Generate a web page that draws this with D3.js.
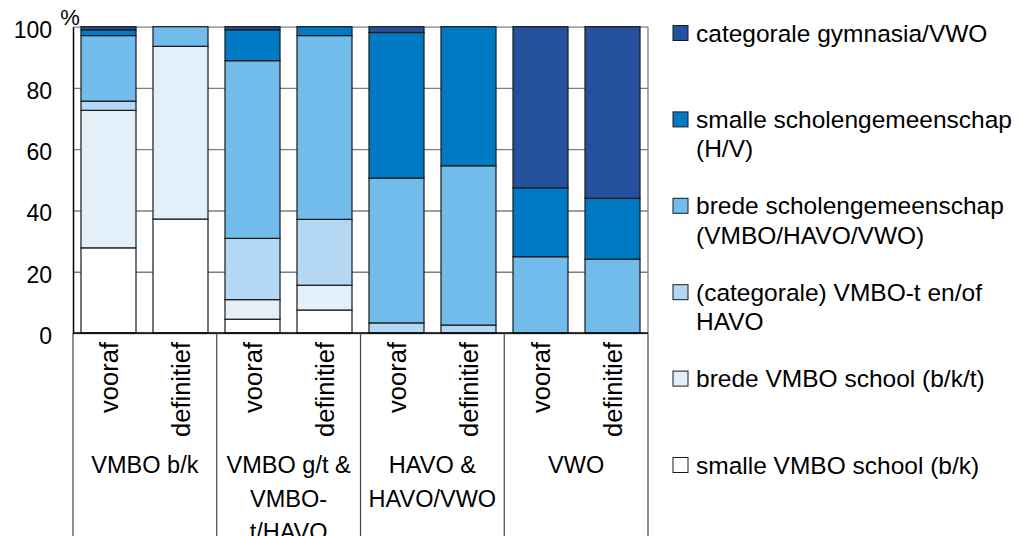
<!DOCTYPE html>
<html>
<head>
<meta charset="utf-8" />
<title>Schooltype vooraf en definitief</title>
<script src="https://cdn.jsdelivr.net/npm/d3@7"></script>
<style>
	body { margin: 0; background: #fff; }
	svg text { font-family: "Liberation Sans", Arial, sans-serif; fill: #000; }
	.grid line { stroke: #7f7f7f; stroke-width: 1.3; }
	.grid path { stroke-width: 0; }
</style>
</head>
<body>
<script>
// categorieen (twee staven per groep)
var bars = ["vooraf", "definitief", "vooraf", "definitief", "vooraf", "definitief", "vooraf", "definitief"];
var groups = [["VMBO b/k"], ["VMBO g/t &", "VMBO-", "t/HAVO"], ["HAVO &", "HAVO/VWO"], ["VWO"]];

// series, van onder naar boven
var smalleVmbo  = [27.8, 37.2, 4.5, 7.5, 0, 0, 0, 0];
var bredeVmbo   = [44.9, 56.4, 6.4, 8.1, 0, 0, 0, 0];
var catVmboT    = [3.0, 0, 20.0, 21.5, 3.3, 2.6, 0, 0];
var bredeSg     = [21.4, 6.4, 58.0, 60.0, 47.3, 52.0, 24.9, 24.1];
var smalleSg    = [1.9, 0, 10.1, 2.9, 47.5, 45.4, 22.5, 19.9];
var catGym      = [1.0, 0, 1.0, 0, 1.9, 0, 52.6, 56.0];

var yTicks = [0, 20, 40, 60, 80, 100];

var series = [
	{ key: "smalle", label: ["smalle VMBO school (b/k)"], values: smalleVmbo, color: "#ffffff" },
	{ key: "bredeV", label: ["brede VMBO school (b/k/t)"], values: bredeVmbo, color: "#e3f0fa" },
	{ key: "catT", label: ["(categorale) VMBO-t en/of", "HAVO"], values: catVmboT, color: "#b4d8f4" },
	{ key: "bredeS", label: ["brede scholengemeenschap", "(VMBO/HAVO/VWO)"], values: bredeSg, color: "#72bcec" },
	{ key: "smalleS", label: ["smalle scholengemeenschap", "(H/V)"], values: smalleSg, color: "#007ac3" },
	{ key: "gym", label: ["categorale gymnasia/VWO"], values: catGym, color: "#25509b" }
];

var svg = d3.select("body").append("svg")
	.attr("width", 1026)
	.attr("height", 536);

var pLeft = 73, pRight = 648, pTop = 26.7, pBottom = 333;

// tabel voor d3.stack
var table = bars.map(function (b, i) {
	var row = { id: i };
	series.forEach(function (s) { row[s.key] = s.values[i]; });
	return row;
});
var stacked = d3.stack().keys(series.map(function (s) { return s.key; }))(table);

var x = d3.scaleBand()
	.domain(d3.range(bars.length))
	.range([pLeft, pRight])
	.paddingInner(0.236)
	.paddingOuter(0.111);

var xg = d3.scaleBand()
	.domain(d3.range(groups.length))
	.range([pLeft, pRight]);

var y = d3.scaleLinear().domain([0, 100]).range([pBottom, pTop]);

// gridlijnen
svg.append("g")
	.attr("class", "grid")
	.attr("transform", "translate(" + pLeft + ",0)")
	.call(d3.axisLeft(y).tickValues(yTicks).tickSize(-(pRight - pLeft)).tickFormat(""));

// rechterrand
svg.append("line")
	.attr("x1", pRight).attr("x2", pRight)
	.attr("y1", pTop).attr("y2", pBottom)
	.attr("stroke", "#7f7f7f").attr("stroke-width", 1.3);

// staven
svg.selectAll(".serie")
	.data(stacked)
	.enter().append("g")
	.attr("fill", function (d, i) { return series[i].color; })
	.selectAll("rect")
	.data(function (d) { return d.filter(function (p) { return p[1] - p[0] > 0; }); })
	.enter().append("rect")
	.attr("x", function (d) { return x(d.data.id); })
	.attr("width", x.bandwidth())
	.attr("y", function (d) { return y(d[1]); })
	.attr("height", function (d) { return y(d[0]) - y(d[1]); })
	.attr("stroke", "#1a1a1a")
	.attr("stroke-width", 1.2);

// y-as
var yAxis = svg.append("g")
	.attr("transform", "translate(" + pLeft + ",0)")
	.call(d3.axisLeft(y).tickValues(yTicks).tickSize(0).tickPadding(21));
yAxis.select(".domain").attr("stroke", "#000").attr("stroke-width", 1.5);
yAxis.selectAll("text").style("font-size", "23px").attr("dy", "0.45em");

svg.append("text")
	.attr("x", 70).attr("y", 25)
	.attr("text-anchor", "middle")
	.style("font-size", "22px")
	.text("%");

// x-as
svg.append("line")
	.attr("x1", pLeft).attr("x2", pRight)
	.attr("y1", pBottom).attr("y2", pBottom)
	.attr("stroke", "#000").attr("stroke-width", 1.5);

// scheidingslijnen groepen
svg.selectAll(".divider")
	.data(d3.range(groups.length + 1))
	.enter().append("line")
	.attr("x1", function (i) { return i < groups.length ? xg(i) : pRight; })
	.attr("x2", function (i) { return i < groups.length ? xg(i) : pRight; })
	.attr("y1", pBottom).attr("y2", 536)
	.attr("stroke", "#444").attr("stroke-width", 1.2);

// staaflabels (gedraaid)
svg.selectAll(".barlabel")
	.data(bars)
	.enter().append("text")
	.attr("transform", function (d, i) {
		return "translate(" + (x(i) + x.bandwidth() / 2) + "," + 342 + ") rotate(-90)";
	})
	.attr("dy", "0.36em")
	.attr("text-anchor", "end")
	.style("font-size", "25.5px")
	.text(function (d) { return d; });

// groepslabels
svg.selectAll(".grouplabel")
	.data(groups)
	.enter().append("text")
	.attr("text-anchor", "middle")
	.style("font-size", "23.5px")
	.each(function (lines, i) {
		d3.select(this).selectAll("tspan")
			.data(lines)
			.enter().append("tspan")
			.attr("x", xg(i) + xg.bandwidth() / 2)
			.attr("y", function (l, j) { return 473 + j * 33.5; })
			.text(function (l) { return l; });
	});

// legenda
var legendItems = series.slice().reverse();
var legend = svg.selectAll(".legend")
	.data(legendItems)
	.enter().append("g")
	.attr("transform", function (d, i) { return "translate(673," + (33 + i * 86.4) + ")"; });

legend.append("rect")
	.attr("x", 0).attr("y", -7.5)
	.attr("width", 15).attr("height", 15)
	.attr("fill", function (d) { return d.color; })
	.attr("stroke", "#1a1a1a").attr("stroke-width", 1);

legend.append("text")
	.style("font-size", "24.5px")
	.each(function (d) {
		d3.select(this).selectAll("tspan")
			.data(d.label)
			.enter().append("tspan")
			.attr("x", 23)
			.attr("y", function (l, j) { return 8.5 + j * 29.5; })
			.text(function (l) { return l; });
	});
</script>
</body>
</html>
